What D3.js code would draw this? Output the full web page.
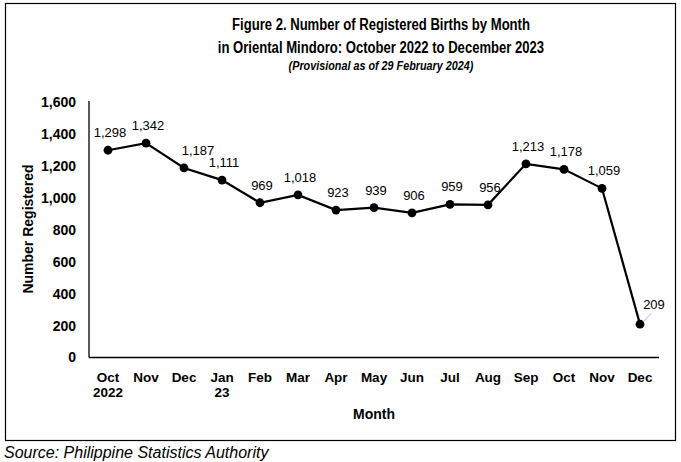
<!DOCTYPE html>
<html>
<head>
<meta charset="utf-8">
<script src="https://cdn.jsdelivr.net/npm/d3@7"></script>
<style>
  html, body { margin: 0; padding: 0; background: #fff; }
  svg { display: block; font-family: "Liberation Sans", Arial, sans-serif; }
</style>
</head>
<body>
<svg id="chart" width="681" height="462"></svg>
<script>
// ---- data ----
const months = ["Oct|2022", "Nov", "Dec", "Jan|23", "Feb", "Mar", "Apr", "May", "Jun", "Jul", "Aug", "Sep", "Oct", "Nov", "Dec"];
const births = [1298, 1342, 1187, 1111, 969, 1018, 923, 939, 906, 959, 956, 1213, 1178, 1059, 209];
const yTicks = [0, 200, 400, 600, 800, 1000, 1200, 1400, 1600];
const titleLines = ["Figure 2. Number of Registered Births by Month", "in Oriental Mindoro: October 2022 to December 2023"];
const subtitle = "(Provisional as of 29 February 2024)";
const yTitle = "Number Registered";
const xTitle = "Month";
const source = "Source: Philippine Statistics Authority";

const svg = d3.select("#chart");
const pLeft = 89, pRight = 659, pTop = 102, pBottom = 357.5;

// frame
svg.append("rect").attr("x", 5.5).attr("y", 3.5).attr("width", 670).attr("height", 437)
  .attr("fill", "none").attr("stroke", "#000").attr("stroke-width", 1.2);

// titles (narrow face emulated by horizontal condensing)
const tg = svg.append("g").attr("transform", "translate(381,0) scale(0.77,1)")
  .attr("text-anchor", "middle").attr("fill", "#000");
tg.selectAll("text.t").data(titleLines).join("text").attr("class", "t")
  .attr("x", 0).attr("y", (d, i) => 30 + i * 23)
  .attr("font-size", 17).attr("font-weight", "bold").text(d => d);
svg.append("g").attr("transform", "translate(381,0) scale(0.8,1)")
  .append("text").attr("x", 0).attr("y", 70).attr("text-anchor", "middle").attr("font-size", 13.5)
  .attr("font-weight", "bold").attr("font-style", "italic").text(subtitle);

// scales
const x = d3.scaleBand().domain(d3.range(months.length)).range([pLeft, pRight]);
const cx = i => x(i) + x.bandwidth() / 2;
const y = d3.scaleLinear().domain([0, 1600]).range([pBottom, pTop]);

// y axis
const yAxis = d3.axisLeft(y).tickValues(yTicks).tickSize(0).tickPadding(13).tickFormat(d3.format(","));
const yg = svg.append("g").attr("transform", `translate(${pLeft},0)`).call(yAxis);
yg.select(".domain").remove();
yg.selectAll("text").attr("font-size", 14).attr("font-weight", "bold").attr("fill", "#000")
  .attr("font-family", "Liberation Sans, Arial, sans-serif");
svg.append("line").attr("x1", pLeft).attr("x2", pLeft).attr("y1", pTop - 1).attr("y2", pBottom)
  .attr("stroke", "#000").attr("stroke-width", 1.3);

// x axis
const xAxis = d3.axisBottom(x).tickSize(0).tickFormat(() => "");
const xg = svg.append("g").attr("transform", `translate(0,${pBottom})`).call(xAxis);
xg.select(".domain").remove();
svg.append("line").attr("x1", pLeft).attr("x2", pRight).attr("y1", pBottom).attr("y2", pBottom)
  .attr("stroke", "#000").attr("stroke-width", 1.3);
xg.selectAll(".tick").each(function(d) {
  const t = d3.select(this).append("text").attr("text-anchor", "middle").attr("fill", "#000")
    .attr("font-size", 13.5).attr("font-weight", "bold").attr("font-family", "Liberation Sans, Arial, sans-serif");
  months[d].split("|").forEach((s, k) => {
    t.append("tspan").attr("x", 0).attr("y", 24 + k * 15).text(s);
  });
});

// axis titles
svg.append("text").attr("transform", `translate(33,229) rotate(-90)`).attr("text-anchor", "middle")
  .attr("font-size", 14).attr("font-weight", "bold").text(yTitle);
svg.append("text").attr("x", 374).attr("y", 419).attr("text-anchor", "middle")
  .attr("font-size", 14).attr("font-weight", "bold").text(xTitle);

// line
const line = d3.line().x((d, i) => cx(i)).y(d => y(d));
svg.append("path").datum(births).attr("d", line).attr("fill", "none")
  .attr("stroke", "#000").attr("stroke-width", 2.2);
svg.selectAll("circle.pt").data(births).join("circle").attr("class", "pt")
  .attr("cx", (d, i) => cx(i)).attr("cy", d => y(d)).attr("r", 4.4).attr("fill", "#000");

// data labels (manual shifts for the two December labels)
const shiftX = i => (i === 2 || i === 14) ? 14 : 2;
const shiftY = i => (i === 14) ? -15 : -13;
svg.selectAll("text.lbl").data(births).join("text").attr("class", "lbl")
  .attr("x", (d, i) => cx(i) + shiftX(i)).attr("y", (d, i) => y(d) + shiftY(i))
  .attr("text-anchor", "middle").attr("font-size", 13).attr("fill", "#000")
  .text(d => d3.format(",")(d));
// leader line for last label
const li = births.length - 1;
svg.append("line").attr("x1", cx(li) + 4).attr("y1", y(births[li]) - 3)
  .attr("x2", cx(li) + 11).attr("y2", y(births[li]) - 11)
  .attr("stroke", "#bbb").attr("stroke-width", 1);

// source
svg.append("text").attr("x", 4).attr("y", 458).attr("font-size", 16).attr("font-style", "italic")
  .text(source);
</script>
</body>
</html>
